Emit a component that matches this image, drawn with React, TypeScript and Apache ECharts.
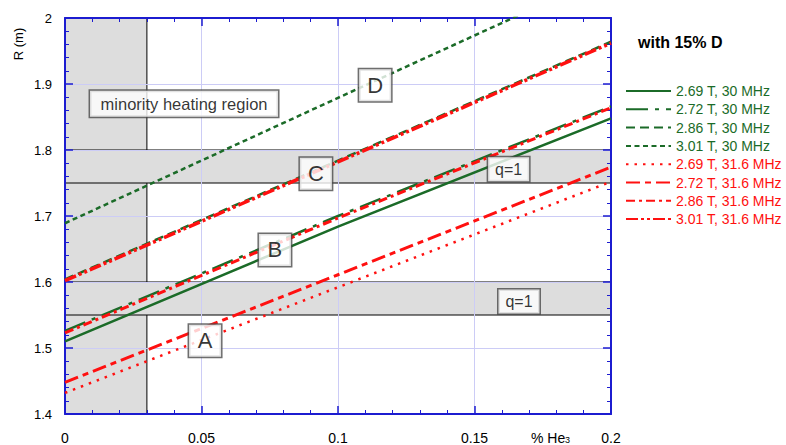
import React, { useEffect, useRef } from 'react';
import * as echarts from 'echarts';

// % He3 fraction at which R was read
const heFraction = [0, 0.1, 0.2];

// Resonance radius R (m) for each case
const r_269T_30MHz = [1.510, 1.684, 1.848];
const r_272T_30MHz = [1.526, 1.700, 1.866];
const r_286T_30MHz = [1.604, 1.784, 1.964];
const r_301T_30MHz = [1.689, 1.879, 2.068];
const r_269T_316MHz = [1.432, 1.592, 1.752];
const r_272T_316MHz = [1.448, 1.611, 1.774];
const r_286T_316MHz = [1.523, 1.697, 1.864];
const r_301T_316MHz = [1.602, 1.782, 1.962];

const seriesNames = [
  '2.69 T, 30 MHz',
  '2.72 T, 30 MHz',
  '2.86 T, 30 MHz',
  '3.01 T, 30 MHz',
  '2.69 T, 31.6 MHz',
  '2.72 T, 31.6 MHz',
  '2.86 T, 31.6 MHz',
  '3.01 T, 31.6 MHz',
];
const seriesValues = [
  r_269T_30MHz, r_272T_30MHz, r_286T_30MHz, r_301T_30MHz,
  r_269T_316MHz, r_272T_316MHz, r_286T_316MHz, r_301T_316MHz,
];

// shaded regions
const minorityRegionX = [0, 0.03];
const q1Bands = [[1.75, 1.8], [1.55, 1.6]];

// annotation boxes (data coordinates)
const boxTexts = ['minority heating region', 'D', 'C', 'B', 'A', 'q=1', 'q=1'];
const boxX = [0.0436, 0.1136, 0.0919, 0.0769, 0.0513, 0.1625, 0.1663];
const boxY = [1.870, 1.898, 1.764, 1.6485, 1.511, 1.771, 1.5705];

const xTickLabels = ['0', '0.05', '0.1', '0.15', '0.2'];
const yTickLabels = ['1.4', '1.5', '1.6', '1.7', '1.8', '1.9', '2'];

const FONT = '"Liberation Sans", Arial, Helvetica, sans-serif';
const GREEN = '#1b6b28';
const RED = '#ff1010';
const AXIS_BLUE = '#1c1cd0';
const GRID_BLUE = '#ccccf6';

const lineStyles = [
  { color: GREEN, width: 2.5, type: 'solid' },
  { color: GREEN, width: 2.5, type: [22, 7, 4, 7] },
  { color: GREEN, width: 2.5, type: [9, 5] },
  { color: GREEN, width: 2.5, type: [5, 3.5] },
  { color: RED, width: 2.5, type: [2.5, 6] },
  { color: RED, width: 3, type: [14, 5, 6, 5] },
  { color: RED, width: 3, type: [9, 4, 3, 4] },
  { color: RED, width: 3.5, type: [12, 3, 3, 3, 3, 3] },
];

function boxStyle(text: string) {
  if (text.length > 5) {
    return { fontSize: 16.5, width: 188, height: 26 };
  }
  if (text.length > 1) {
    return { fontSize: 16, width: 41, height: 24 };
  }
  return { fontSize: 22, width: 32, height: 32 };
}

export default function App() {
  const ref = useRef<HTMLDivElement>(null);

  useEffect(() => {
    if (!ref.current) return;
    const chart = echarts.init(ref.current, null, { renderer: 'svg' });

    const lineSeries = seriesNames.map((name, i) => ({
      name,
      type: 'line',
      z: 5,
      symbol: 'none',
      showSymbol: false,
      silent: true,
      data: heFraction.map((x, j) => [x, seriesValues[i][j]]),
      lineStyle: lineStyles[i],
      itemStyle: { color: lineStyles[i].color },
    }));

    const regionSeries = {
      name: 'regions',
      type: 'line',
      z: 1,
      data: [],
      silent: true,
      markArea: {
        silent: true,
        itemStyle: { color: '#dddddd', borderColor: '#000', borderWidth: 1 },
        data: [
          [
            { xAxis: minorityRegionX[0], yAxis: 1.4 },
            { xAxis: minorityRegionX[1], yAxis: 2 },
          ],
          ...q1Bands.map((b) => [
            { xAxis: 0, yAxis: b[0] },
            { xAxis: 0.2, yAxis: b[1] },
          ]),
        ],
      },
    };

    const labelSeries = {
      name: 'boxes',
      type: 'scatter',
      z: 8,
      silent: true,
      symbolSize: 1,
      itemStyle: { color: 'rgba(0,0,0,0)' },
      data: boxTexts.map((t, i) => {
        const s = boxStyle(t);
        return {
          value: [boxX[i], boxY[i]],
          label: {
            show: true,
            position: 'inside',
            formatter: t,
            fontFamily: FONT,
            fontSize: s.fontSize,
            color: '#000',
            width: s.width,
            height: s.height,
            lineHeight: s.height,
            align: 'center',
            verticalAlign: 'middle',
            backgroundColor: '#ffffff',
            borderColor: '#4a4a4a',
            borderWidth: 1.5,
          },
        };
      }),
    };

    const axisCommon = {
      min: 0,
      max: 0.2,
      interval: 0.05,
    };

    chart.setOption({
      animation: false,
      backgroundColor: '#ffffff',
      textStyle: { fontFamily: FONT },
      grid: { left: 65, right: 175, top: 18, bottom: 31 },
      title: {
        text: 'with 15% D',
        left: 633,
        top: 29,
        textStyle: { fontFamily: FONT, fontSize: 16, fontWeight: 'bold', color: '#000' },
      },
      legend: {
        orient: 'vertical',
        left: 620,
        top: 79,
        itemWidth: 45,
        itemHeight: 14,
        itemGap: 4.3,
        selectedMode: false,
        itemStyle: { opacity: 0 },
        textStyle: { fontFamily: FONT, fontSize: 14 },
        data: seriesNames.map((n, i) => ({
          name: n,
          textStyle: { color: i < 4 ? GREEN : RED },
        })),
      },
      xAxis: [
        {
          type: 'value',
          ...axisCommon,
          position: 'bottom',
          z: 3,
          axisLine: { show: true, onZero: false, lineStyle: { color: AXIS_BLUE, width: 2 } },
          axisTick: { show: true, inside: true, length: 8, lineStyle: { color: AXIS_BLUE, width: 1.5 } },
          minorTick: { show: true, splitNumber: 5, length: 4, lineStyle: { color: AXIS_BLUE, width: 1 } },
          splitLine: { show: true, lineStyle: { color: GRID_BLUE, width: 1 } },
          axisLabel: {
            margin: 17,
            fontSize: 14,
            color: '#000',
            fontFamily: FONT,
            formatter: (v: number) => xTickLabels[Math.round(v / 0.05)] ?? '',
          },
        },
        {
          type: 'value',
          ...axisCommon,
          position: 'top',
          z: 3,
          axisLine: { show: true, onZero: false, lineStyle: { color: AXIS_BLUE, width: 2 } },
          axisTick: { show: true, inside: true, length: 8, lineStyle: { color: AXIS_BLUE, width: 1.5 } },
          minorTick: { show: true, splitNumber: 5, length: 4, lineStyle: { color: AXIS_BLUE, width: 1 } },
          splitLine: { show: false },
          axisLabel: { show: false },
        },
      ],
      yAxis: [
        {
          type: 'value',
          min: 1.4,
          max: 2,
          interval: 0.1,
          position: 'left',
          z: 3,
          axisLine: { show: true, onZero: false, lineStyle: { color: AXIS_BLUE, width: 2 } },
          axisTick: { show: true, inside: true, length: 8, lineStyle: { color: AXIS_BLUE, width: 1.5 } },
          minorTick: { show: true, splitNumber: 5, length: 4, lineStyle: { color: AXIS_BLUE, width: 1 } },
          splitLine: { show: true, lineStyle: { color: GRID_BLUE, width: 1 } },
          axisLabel: {
            margin: 13,
            fontSize: 13,
            color: '#000',
            fontFamily: FONT,
            formatter: (v: number) => yTickLabels[Math.round((v - 1.4) / 0.1)] ?? '',
          },
        },
        {
          type: 'value',
          min: 1.4,
          max: 2,
          interval: 0.1,
          position: 'right',
          z: 3,
          axisLine: { show: true, onZero: false, lineStyle: { color: AXIS_BLUE, width: 2 } },
          axisTick: { show: true, inside: true, length: 8, lineStyle: { color: AXIS_BLUE, width: 1.5 } },
          minorTick: { show: true, splitNumber: 5, length: 4, lineStyle: { color: AXIS_BLUE, width: 1 } },
          splitLine: { show: false },
          axisLabel: { show: false },
        },
      ],
      graphic: [
        {
          type: 'text',
          x: 18,
          y: 44,
          rotation: Math.PI / 2,
          style: {
            text: 'R (m)',
            fontFamily: FONT,
            fontSize: 13,
            fill: '#000',
            align: 'center',
            verticalAlign: 'middle',
          },
        },
        {
          type: 'text',
          x: 531,
          y: 438,
          style: {
            text: '% He',
            fontFamily: FONT,
            fontSize: 14,
            fill: '#000',
            align: 'left',
            verticalAlign: 'middle',
          },
        },
        {
          type: 'text',
          x: 565,
          y: 435,
          style: {
            text: '3',
            fontFamily: FONT,
            fontSize: 9,
            fill: '#000',
            align: 'left',
            verticalAlign: 'top',
          },
        },
      ],
      series: [regionSeries, ...lineSeries, labelSeries],
    });

    return () => chart.dispose();
  }, []);

  return <div ref={ref} style={{ width: 786, height: 445, position: 'absolute', left: 0, top: 0 }} />;
}
